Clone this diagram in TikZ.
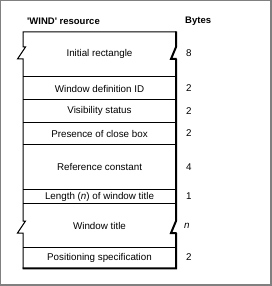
\documentclass[tikz,border=0pt]{standalone}
\usepackage{fontspec}
\setmainfont{Liberation Sans}
\usetikzlibrary{positioning}
\definecolor{framegray}{HTML}{808080}

\begin{document}
\begin{tikzpicture}[x=1pt, y=-1pt, font=\fontsize{9.8}{11}\selectfont,
  field/.style={anchor=center, inner sep=0pt},
  size/.style={anchor=west, inner sep=0pt},
  head/.style={anchor=west, inner sep=0pt, font=\fontsize{9.5}{11}\selectfont\bfseries}]
  % frame round the figure
  \fill[framegray] (0,0) rectangle (272,286);
  \fill[white] (1,1) rectangle (269.5,284.3);
  \useasboundingbox (0,0) rectangle (272,286);

  % headings
  \node[head] (reshead) at (27,21.5) {\textquotesingle WIND\textquotesingle{} resource};
  \node[head] (byteshead) at (185,21.5) {Bytes};

  % outline, left side with breaks
  \draw[line width=1pt] (176,32) -- (23,32) -- (23,47) -- (25.5,47) -- (17.5,59) -- (23,59)
    -- (23,221) -- (25.5,221) -- (17.5,233) -- (23,233) -- (23,268.5);
  % right side and bottom, heavy
  \draw[line width=2pt] (176,31.5) -- (176,47) -- (171,59) -- (176.5,59)
    -- (176,59) -- (176,221) -- (171,233) -- (176.5,233) -- (176,233) -- (176,268.3) -- (22.5,268.3);

  % field separators
  \foreach \y in {77,99.3,122.3,144.3,189.3,203.3,247.3}
    \draw[line width=1pt] (23,\y) -- (176,\y);

  % fields
  \node[field] (initrect) at (99.5,53.5) {Initial rectangle};
  \node[field] (defid) at (99.5,88.5) {Window definition ID};
  \node[field] (visible) at (99.5,111) {Visibility status};
  \node[field] (closebox) at (99.5,133.5) {Presence of close box};
  \node[field] (refcon) at (99.5,167) {Reference constant};
  \node[field] (titlelen) at (99.5,196.5) {Length (\textit{n}) of window title};
  \node[field] (title) at (99.5,225.5) {Window title};
  \node[field] (posspec) at (99.5,257.5) {Positioning specification};

  % sizes in bytes
  \node[size] (initsize) at (186,53.5) {8};
  \node[size] (defidsize) at (186,88.5) {2};
  \node[size] (visiblesize) at (186,111) {2};
  \node[size] (closeboxsize) at (186,133.5) {2};
  \node[size] (refconsize) at (186,167) {4};
  \node[size] (titlelensize) at (186,196.5) {1};
  \node[size] (titlesize) at (184,225.5) {\textit{n}};
  \node[size] (posspecsize) at (186,257.5) {2};
\end{tikzpicture}
\end{document}
